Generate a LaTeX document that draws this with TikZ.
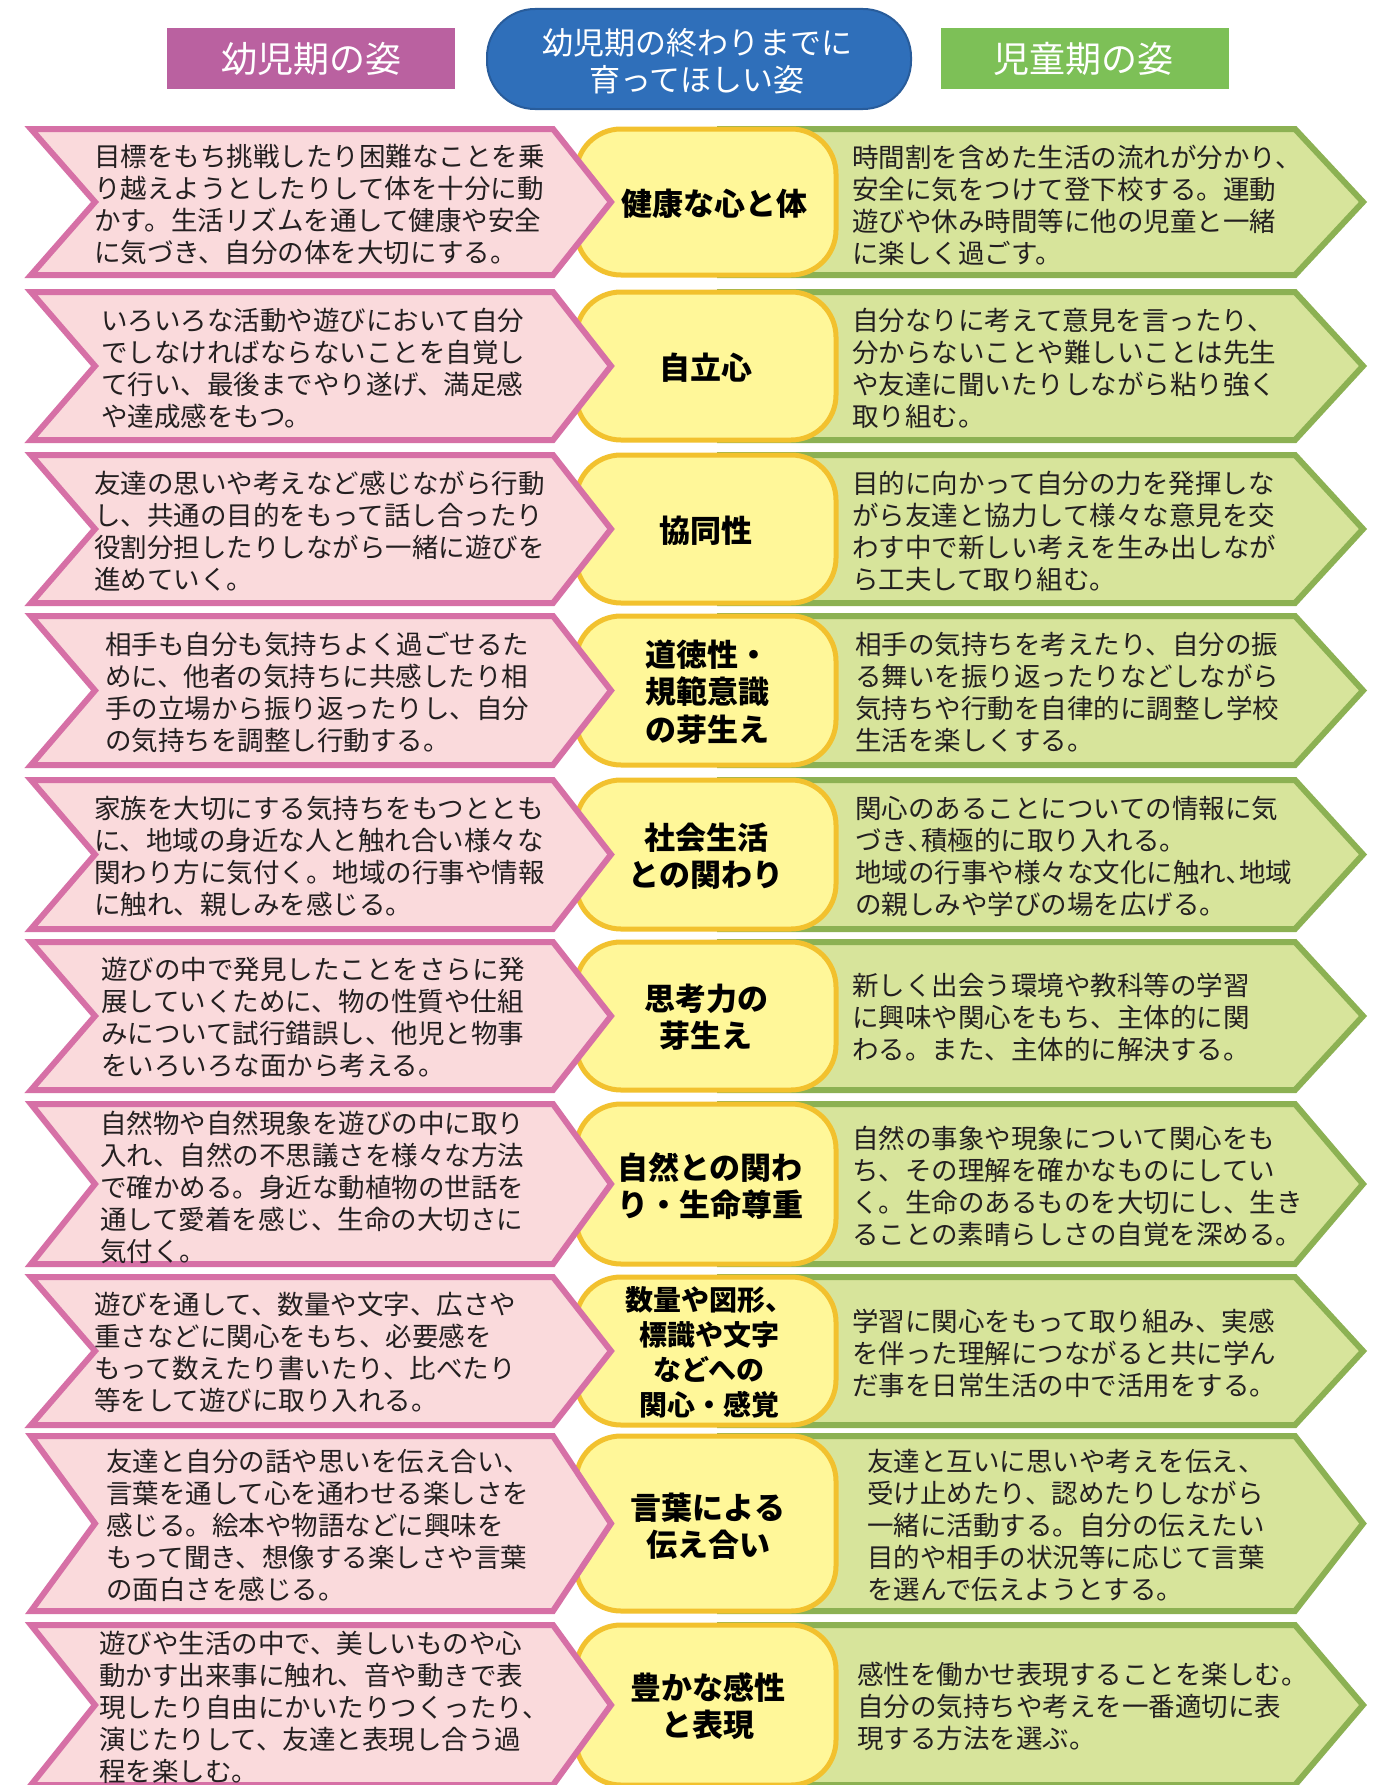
\documentclass[tikz,border=0pt]{standalone}
\usepackage{fontspec}
\newfontfamily\jp{Noto Sans CJK JP}
\definecolor{pinkfill}{RGB}{250,218,220}
\definecolor{pinkline}{RGB}{214,112,166}
\definecolor{greenfill}{RGB}{215,228,155}
\definecolor{greenline}{RGB}{140,177,83}
\definecolor{yellowfill}{RGB}{255,247,153}
\definecolor{yellowline}{RGB}{242,193,46}
\definecolor{headmag}{RGB}{186,97,160}
\definecolor{headblue}{RGB}{47,111,186}
\definecolor{headblueline}{RGB}{40,92,155}
\definecolor{headgreen}{RGB}{125,192,87}
\definecolor{txt}{RGB}{35,31,32}
\tikzset{
  pinkshape/.style={fill=pinkfill, draw=pinkline, line width=6pt, line join=miter},
  greenshape/.style={fill=greenfill, draw=greenline, line width=6pt, line join=miter},
  yellowshape/.style={fill=yellowfill, draw=yellowline, line width=5pt, rounded corners=45pt},
  lefttext/.style={anchor=west, inner sep=0pt, align=left, text=txt, font=\jp\fontsize{26.5}{32}\selectfont},
  righttext/.style={anchor=west, inner sep=0pt, align=left, text=txt, font=\jp\fontsize{26.5}{32}\selectfont},
  centertext/.style={inner sep=0pt, align=center, text=black, font=\jp\fontsize{31}{37.5}\selectfont\bfseries},
  smallcenter/.style={inner sep=0pt, align=center, text=black, font=\jp\fontsize{28}{35}\selectfont\bfseries},
  headbox/.style={inner sep=0pt, text=white, align=center},
}
\newcommand\chevrow[2]{%
  \pgfmathsetmacro\rowtop{#1+3}%
  \pgfmathsetmacro\rowbot{#2-3}%
  \pgfmathsetmacro\rowmid{(#1+#2)/2}%
  \draw[greenshape] (720,\rowtop) -- (1295,\rowtop) -- (1363,\rowmid) -- (1295,\rowbot) -- (720,\rowbot) -- cycle;
  \draw[yellowshape] (576,\rowtop) rectangle (836,\rowbot);
  \draw[pinkshape] (31,\rowtop) -- (553,\rowtop) -- (611,\rowmid) -- (553,\rowbot) -- (31,\rowbot) -- (95,\rowmid) -- cycle;
}
\begin{document}
\begin{tikzpicture}[x=1pt,y=-1pt]
\useasboundingbox (0,0) rectangle (1377,1785);
\fill[white] (0,0) rectangle (1377,1785);

% header
\fill[headmag] (167,28) rectangle (455,89);
\node[headbox, font=\jp\fontsize{36}{40}\selectfont] (h1) at (311,59) {幼児期の姿};
\draw[fill=headblue, draw=headblueline, line width=2pt, rounded corners=48pt] (487,9) rectangle (911,109);
\node[headbox, font=\jp\fontsize{31}{37}\selectfont] (h2) at (697,61) {幼児期の終わりまでに\\育ってほしい姿};
\fill[headgreen] (941,28) rectangle (1229,89);
\node[headbox, font=\jp\fontsize{36}{40}\selectfont] (h3) at (1083,59) {児童期の姿};

% rows
\chevrow{126}{278}
\chevrow{289}{443}
\chevrow{452}{606}
\chevrow{613}{768}
\chevrow{777}{932}
\chevrow{939}{1093}
\chevrow{1101}{1267}
\chevrow{1274}{1428}
\chevrow{1433}{1614}
\chevrow{1622}{1788}

% row 1
\node[lefttext] (l1) at (94,205) {目標をもち挑戦したり困難なことを乗\\り越えようとしたりして体を十分に動\\かす。生活リズムを通して健康や安全\\に気づき、自分の体を大切にする。};
\node[centertext] (c1) at (714,204) {健康な心と体};
\node[righttext] (r1) at (852,205) {時間割を含めた生活の流れが分かり、\\安全に気をつけて登下校する。運動\\遊びや休み時間等に他の児童と一緒\\に楽しく過ごす。};

% row 2
\node[lefttext] (l2) at (101,368) {いろいろな活動や遊びにおいて自分\\でしなければならないことを自覚し\\て行い、最後までやり遂げ、満足感\\や達成感をもつ。};
\node[centertext] (c2) at (706,368) {自立心};
\node[righttext] (r2) at (852,368) {自分なりに考えて意見を言ったり、\\分からないことや難しいことは先生\\や友達に聞いたりしながら粘り強く\\取り組む。};

% row 3
\node[lefttext] (l3) at (94,531) {友達の思いや考えなど感じながら行動\\し、共通の目的をもって話し合ったり\\役割分担したりしながら一緒に遊びを\\進めていく。};
\node[centertext] (c3) at (706,531) {協同性};
\node[righttext] (r3) at (852,531) {目的に向かって自分の力を発揮しな\\がら友達と協力して様々な意見を交\\わす中で新しい考えを生み出しなが\\ら工夫して取り組む。};

% row 4
\node[lefttext] (l4) at (105,692) {相手も自分も気持ちよく過ごせるた\\めに、他者の気持ちに共感したり相\\手の立場から振り返ったりし、自分\\の気持ちを調整し行動する。};
\node[centertext] (c4) at (707,692) {道徳性・\\規範意識\\の芽生え};
\node[righttext] (r4) at (855,692) {相手の気持ちを考えたり、自分の振\\る舞いを振り返ったりなどしながら\\気持ちや行動を自律的に調整し学校\\生活を楽しくする。};

% row 5
\node[lefttext] (l5) at (94,856) {家族を大切にする気持ちをもつととも\\に、地域の身近な人と触れ合い様々な\\関わり方に気付く。地域の行事や情報\\に触れ、親しみを感じる。};
\node[centertext] (c5) at (706,856) {社会生活\\との関わり};
\node[righttext] (r5) at (855,856) {関心のあることについての情報に気\\づき､積極的に取り入れる。\\地域の行事や様々な文化に触れ､地域\\の親しみや学びの場を広げる。};

% row 6
\node[lefttext] (l6) at (101,1017) {遊びの中で発見したことをさらに発\\展していくために、物の性質や仕組\\みについて試行錯誤し、他児と物事\\をいろいろな面から考える。};
\node[centertext] (c6) at (706,1017) {思考力の\\芽生え};
\node[righttext] (r6) at (852,1017) {新しく出会う環境や教科等の学習\\に興味や関心をもち、主体的に関\\わる。また、主体的に解決する。};

% row 7
\node[lefttext] (l7) at (100,1187) {自然物や自然現象を遊びの中に取り\\入れ、自然の不思議さを様々な方法\\で確かめる。身近な動植物の世話を\\通して愛着を感じ、生命の大切さに\\気付く。};
\node[centertext] (c7) at (710,1186) {自然との関わ\\り・生命尊重};
\node[righttext] (r7) at (852,1186) {自然の事象や現象について関心をも\\ち、その理解を確かなものにしてい\\く。生命のあるものを大切にし、生き\\ることの素晴らしさの自覚を深める。};

% row 8
\node[lefttext] (l8) at (94,1352) {遊びを通して、数量や文字、広さや\\重さなどに関心をもち、必要感を\\もって数えたり書いたり、比べたり\\等をして遊びに取り入れる。};
\node[smallcenter] (c8) at (709,1352) {数量や図形、\\標識や文字\\などへの\\関心・感覚};
\node[righttext] (r8) at (852,1353) {学習に関心をもって取り組み、実感\\を伴った理解につながると共に学ん\\だ事を日常生活の中で活用をする。};

% row 9
\node[lefttext] (l9) at (106,1525) {友達と自分の話や思いを伝え合い、\\言葉を通して心を通わせる楽しさを\\感じる。絵本や物語などに興味を\\もって聞き、想像する楽しさや言葉\\の面白さを感じる。};
\node[centertext] (c9) at (708,1526) {言葉による\\伝え合い};
\node[righttext] (r9) at (867,1525) {友達と互いに思いや考えを伝え、\\受け止めたり、認めたりしながら\\一緒に活動する。自分の伝えたい\\目的や相手の状況等に応じて言葉\\を選んで伝えようとする。};

% row 10
\node[lefttext] (l10) at (99,1707) {遊びや生活の中で、美しいものや心\\動かす出来事に触れ、音や動きで表\\現したり自由にかいたりつくったり、\\演じたりして、友達と表現し合う過\\程を楽しむ。};
\node[centertext] (c10) at (708,1706) {豊かな感性\\と表現};
\node[righttext] (r10) at (857,1706) {感性を働かせ表現することを楽しむ。\\自分の気持ちや考えを一番適切に表\\現する方法を選ぶ。};
\end{tikzpicture}
\end{document}
